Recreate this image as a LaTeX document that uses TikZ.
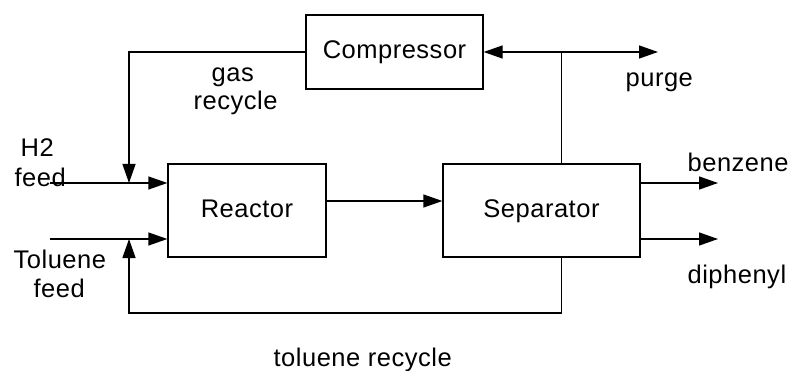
\documentclass[tikz,border=0pt]{standalone}
\usepackage{fontspec}
\setmainfont{Liberation Sans}[LetterSpace=2]
\usetikzlibrary{arrows.meta}
\begin{document}
\begin{tikzpicture}[x=1pt,y=-1pt,
  line width=1.3pt,
  unit/.style={draw, line width=1.3pt, inner sep=0pt, text height=18pt, text depth=5pt, font=\fontsize{25.5}{30}\selectfont},
  lbl/.style={inner sep=0pt, anchor=base west, font=\fontsize{25.5}{30}\selectfont},
  flow/.style={-{Triangle[length=19pt,width=13pt]}},
  pipe/.style={-}]
\useasboundingbox (0,0) rectangle (791,371);
% units
\node[unit, minimum width=177pt, minimum height=74pt] (comp) at (394.5,52) {Compressor};
\node[unit, minimum width=158pt, minimum height=93pt] (reac) at (247,210.5) {Reactor};
\node[unit, minimum width=197pt, minimum height=93pt] (sep) at (541.5,210.5) {Separator};
% coordinates
\coordinate (gx) at (129,183);
\coordinate (h2s) at (50,183);
\coordinate (tols) at (50,239);
\coordinate (tx) at (129,239);
\coordinate (j) at (561.7,52);
\coordinate (pend) at (658,52);
\coordinate (bend) at (718,183);
\coordinate (dend) at (718,239);
\coordinate (rs) at (0,201);
\coordinate (trb) at (561.7,313);
% connectors
\draw[flow] (comp.west) -| (gx);
\draw[flow] (h2s) -- (h2s -| reac.west);
\draw[flow] (tols) -- (tols -| reac.west);
\draw[flow] (rs -| reac.east) -- (rs -| sep.west);
\draw[pipe] (sep.north -| j) -- (j);
\draw[flow] (j) -- (comp.east);
\draw[flow] (j) -- (pend);
\draw[flow] (bend -| sep.east) -- (bend);
\draw[flow] (dend -| sep.east) -- (dend);
\draw[flow] (sep.south -| trb) -- (trb) -| (tx);
% labels
\node[lbl] (lgas) at (211,82) {gas};
\node[lbl] (lrec) at (193,110) {recycle};
\node[lbl] (lh2) at (20,157) {H2};
\node[lbl] (lh2f) at (14,187) {feed};
\node[lbl] (ltol) at (13,268) {Toluene};
\node[lbl] (ltolf) at (33,297) {feed};
\node[lbl] (lpur) at (625,87) {purge};
\node[lbl] (lben) at (687,172) {benzene};
\node[lbl] (ldip) at (687,283) {diphenyl};
\node[lbl] (ltr) at (273,366) {toluene recycle};
\end{tikzpicture}
\end{document}
